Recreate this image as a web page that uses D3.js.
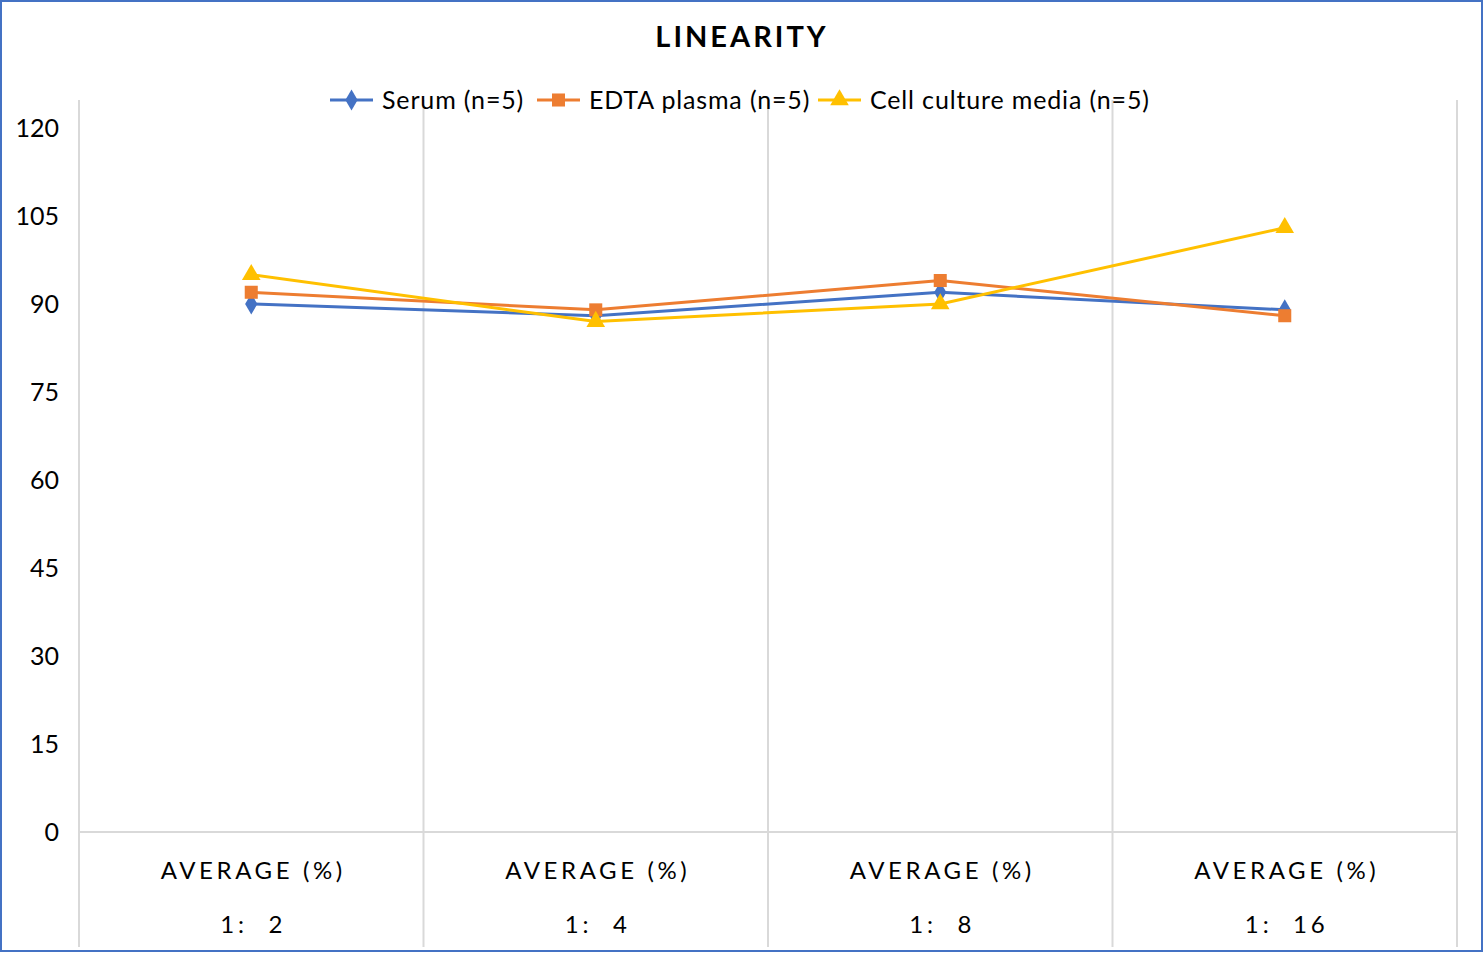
<!DOCTYPE html>
<html><head><meta charset="utf-8">
<script src="https://cdn.jsdelivr.net/npm/d3@7"></script>
<style>body{margin:0;background:#fff}svg{display:block}</style>
</head><body><svg id="c" width="1484" height="953"></svg>
<script>
const categories = ["1:  2", "1:  4", "1:  8", "1:  16"];
const categoryTop = "AVERAGE (%)";
const seriesNames = ["Serum (n=5)", "EDTA plasma (n=5)", "Cell culture media (n=5)"];
const serum = [90, 88, 92, 89];
const edta = [92, 89, 94, 88];
const cell = [95, 87, 90, 103];
const yTicks = [0, 15, 30, 45, 60, 75, 90, 105, 120];
const colors = ["#4472C4", "#ED7D31", "#FFC000"];
const symbols = [d3.symbolDiamond, d3.symbolSquare, d3.symbolTriangle];
const symSizes = [130, 170, 150];

const svg = d3.select("#c");
const font = "Lato, 'Open Sans', sans-serif";
svg.append("rect").attr("x",1).attr("y",1).attr("width",1481).attr("height",950)
  .attr("fill","#fff").attr("stroke","#4472C4").attr("stroke-width",2);

const x = d3.scaleBand().domain(categories).range([79,1457]).padding(0);
const y = d3.scaleLinear().domain([0,120]).range([832,128]);

const seps = categories.map(c=>x(c)).concat([x.range()[1]]);
svg.append("g").selectAll("line").data(seps).join("line")
  .attr("x1",d=>d).attr("x2",d=>d).attr("y1",100).attr("y2",947)
  .attr("stroke","#d9d9d9").attr("stroke-width",2);
svg.append("line").attr("x1",79).attr("x2",1457).attr("y1",y(0)).attr("y2",y(0))
  .attr("stroke","#d9d9d9").attr("stroke-width",2);

svg.append("g").selectAll("text").data(yTicks).join("text")
  .attr("x",59).attr("y",d=>y(d)).attr("dy","0.36em").attr("text-anchor","end")
  .attr("font-family",font).attr("font-size",25).attr("fill","#000").text(d=>d);

const xl = svg.append("g");
xl.selectAll("text.top").data(categories).join("text").attr("class","top")
  .attr("x",d=>x(d)+x.bandwidth()/2+2).attr("y",879).attr("text-anchor","middle")
  .attr("font-family",font).attr("font-size",24).attr("letter-spacing","3.6px").text(categoryTop);
xl.selectAll("text.bot").data(categories).join("text").attr("class","bot")
  .attr("x",d=>x(d)+x.bandwidth()/2+2).attr("y",933).attr("text-anchor","middle")
  .attr("font-family",font).attr("font-size",24).attr("letter-spacing","4px")
  .attr("xml:space","preserve").style("white-space","pre").text(d=>d);

svg.append("text").attr("x",742).attr("y",47).attr("text-anchor","middle")
  .attr("font-family",font).attr("font-weight","bold").attr("font-size",29)
  .attr("letter-spacing","3px").text("LINEARITY");

const data = [serum, edta, cell];
const line = d3.line().x((d,i)=>x(categories[i])+x.bandwidth()/2).y(d=>y(d));
data.forEach((s,k)=>{
  svg.append("path").datum(s).attr("d",line).attr("fill","none")
    .attr("stroke",colors[k]).attr("stroke-width",3).attr("stroke-linejoin","round");
});
data.forEach((s,k)=>{
  svg.append("g").selectAll("path").data(s).join("path")
    .attr("transform",(d,i)=>`translate(${x(categories[i])+x.bandwidth()/2},${y(d)})`)
    .attr("d",d3.symbol().type(symbols[k]).size(symSizes[k]))
    .attr("fill",colors[k]);
});

const legendX = [330, 537, 818];
const lg = svg.append("g");
seriesNames.forEach((n,k)=>{
  const g = lg.append("g").attr("transform",`translate(${legendX[k]},100)`);
  g.append("line").attr("x1",0).attr("x2",43).attr("stroke",colors[k]).attr("stroke-width",3);
  g.append("path").attr("transform","translate(21.5,0)")
    .attr("d",d3.symbol().type(symbols[k]).size(symSizes[k])).attr("fill",colors[k]);
  g.append("text").attr("x",52).attr("dy","0.36em").attr("font-family",font)
    .attr("font-size",25).attr("letter-spacing","0.85px").text(n);
});
</script></body></html>
